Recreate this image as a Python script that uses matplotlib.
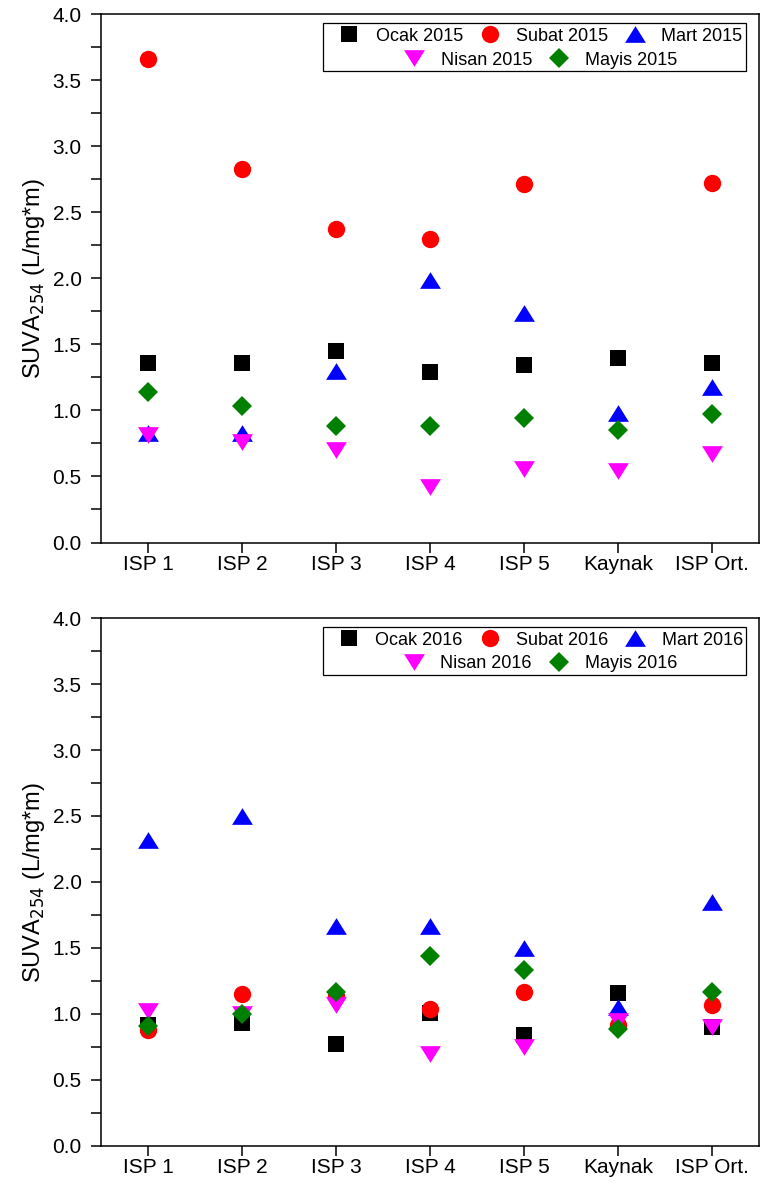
import matplotlib.pyplot as plt
import numpy as np
from matplotlib.ticker import MultipleLocator
from matplotlib.patches import Rectangle
from matplotlib.path import Path

plt.rcParams['font.family'] = ['Liberation Sans', 'DejaVu Sans']

sites = ["ISP 1", "ISP 2", "ISP 3", "ISP 4", "ISP 5", "Kaynak", "ISP Ort."]

# SUVA254 values, 2015 sampling campaign
ocak_2015 = [1.36, 1.36, 1.45, 1.29, 1.34, 1.40, 1.36]
subat_2015 = [3.66, 2.83, 2.37, 2.30, 2.71, np.nan, 2.72]
mart_2015 = [0.83, 0.83, 1.30, 1.99, 1.74, 0.98, 1.18]
nisan_2015 = [0.81, 0.76, 0.70, 0.42, 0.56, 0.54, 0.67]
mayis_2015 = [1.14, 1.03, 0.88, 0.88, 0.94, 0.85, 0.97]

# SUVA254 values, 2016 sampling campaign
ocak_2016 = [0.92, 0.93, 0.77, 1.01, 0.84, 1.16, 0.90]
subat_2016 = [0.88, 1.15, 1.14, 1.04, 1.17, 0.92, 1.07]
mart_2016 = [2.32, 2.50, 1.67, 1.67, 1.50, 1.05, 1.85]
nisan_2016 = [1.02, 1.00, 1.07, 0.70, 0.75, 0.95, 0.90]
mayis_2016 = [0.91, 1.00, 1.17, 1.44, 1.33, 0.89, 1.17]

# Origin style triangles: wider than tall
tri_up = Path([(-1, -0.8), (1, -0.8), (0, 0.8), (-1, -0.8)], closed=True)
tri_down = Path([(-1, 0.8), (1, 0.8), (0, -0.8), (-1, 0.8)], closed=True)

styles = [
    dict(marker='s', color='black', ms=11.5),
    dict(marker='o', color='red', ms=12.5),
    dict(marker=tri_up, color='blue', ms=15),
    dict(marker=tri_down, color='magenta', ms=15),
    dict(marker='D', color='green', ms=10.5),
]


def draw_panel(ax, series, labels):
    x = np.arange(1, len(sites) + 1)
    handles = []
    for vals, st, lab in zip(series, styles, labels):
        h, = ax.plot(x, vals, linestyle='none', marker=st['marker'], color=st['color'],
                     markersize=st['ms'], markeredgewidth=0, label=lab)
        handles.append(h)

    ax.set_xlim(0.5, 7.5)
    ax.set_ylim(0, 4.0)
    ax.set_xticks(x)
    ax.set_xticklabels(sites)
    ax.set_yticks(np.arange(0, 4.01, 0.5))
    ax.set_yticklabels([f"{v:.1f}" for v in np.arange(0, 4.01, 0.5)])
    ax.yaxis.set_minor_locator(MultipleLocator(0.25))
    ax.tick_params(axis='both', which='both', direction='out', length=7, width=1.1, labelsize=15)
    ax.tick_params(axis='y', which='major', pad=7)
    ax.tick_params(axis='x', pad=2)
    for sp in ax.spines.values():
        sp.set_linewidth(1.1)
    ax.set_ylabel("SUVA$_{254}$ (L/mg*m)", fontsize=17, labelpad=4)

    # legend: three entries in the first row, two centred below, one frame round both
    common = dict(frameon=False, fontsize=13, handlelength=1.2, handletextpad=0.85,
                  columnspacing=0.9, borderpad=0, borderaxespad=0, numpoints=1)
    leg1 = ax.legend(handles=handles[:3], ncol=3, loc='center',
                     bbox_to_anchor=(0.668, 0.958), **common)
    ax.add_artist(leg1)
    ax.legend(handles=handles[3:], ncol=2, loc='center',
              bbox_to_anchor=(0.668, 0.913), **common)
    ax.add_patch(Rectangle((0.337, 0.892), 0.643, 0.0915, transform=ax.transAxes,
                           fill=False, edgecolor='black', linewidth=0.9, zorder=5))


fig = plt.figure(figsize=(7.61, 11.91), dpi=100)
ax1 = fig.add_axes([0.1327, 0.5445, 0.8647, 0.4437])
ax2 = fig.add_axes([0.1327, 0.0378, 0.8647, 0.4433])

draw_panel(ax1, [ocak_2015, subat_2015, mart_2015, nisan_2015, mayis_2015],
           ["Ocak 2015", "Subat 2015", "Mart 2015", "Nisan 2015", "Mayis 2015"])
draw_panel(ax2, [ocak_2016, subat_2016, mart_2016, nisan_2016, mayis_2016],
           ["Ocak 2016", "Subat 2016", "Mart 2016", "Nisan 2016", "Mayis 2016"])

fig.savefig("out.png", dpi=100)
